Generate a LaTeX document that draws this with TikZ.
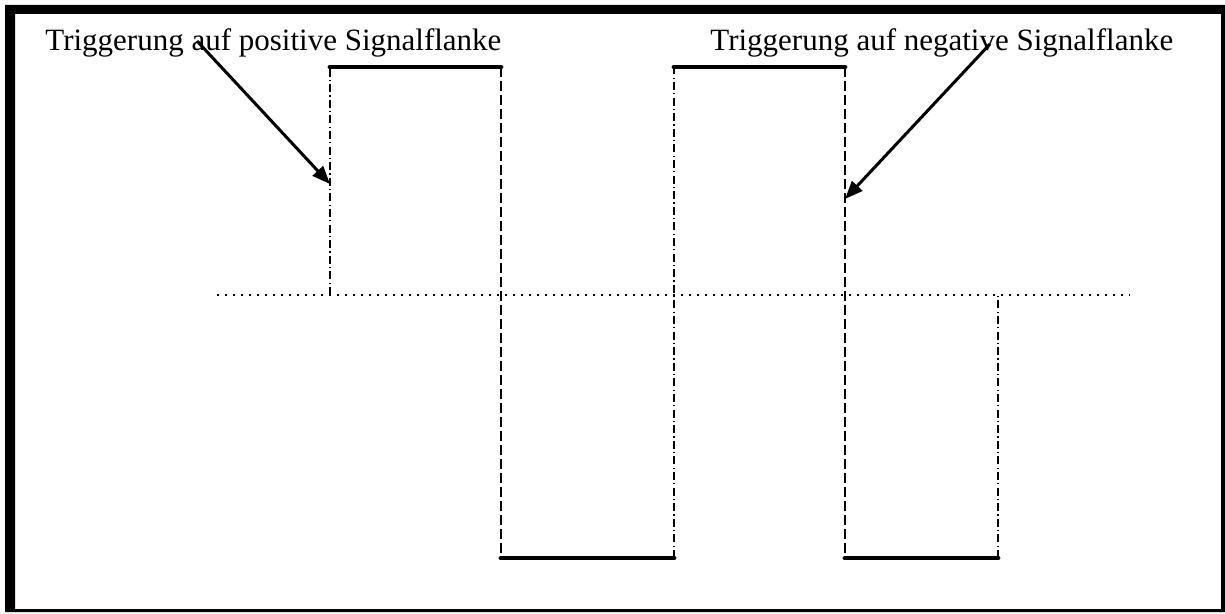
\documentclass[tikz,border=0pt]{standalone}
\usepackage{fontspec}
\setmainfont{Liberation Serif}
\usetikzlibrary{arrows.meta}
\begin{document}
\begin{tikzpicture}[x=0.5pt,y=-0.5pt,
  level/.style={line width=2.4pt,line cap=round},
  riseedge/.style={line width=1.1pt,dash pattern=on 4pt off 1.6pt on 0.6pt off 1.6pt},
  falledge/.style={line width=1.1pt,dash pattern=on 5pt off 2pt},
  zeroline/.style={line width=0.9pt,dash pattern=on 0.9pt off 3.1pt},
  pointer/.style={line width=1.5pt,-{Triangle[length=9pt,width=7pt]}},
  label/.style={font=\fontsize{15.5}{18}\selectfont,inner sep=0pt,anchor=base west}]
\useasboundingbox (0,0) rectangle (1225,614);
% frame
\fill[black,even odd rule] (5,5) rectangle (1225,612) (15,14) rectangle (1221,609);
% waveform corner points
\coordinate (z0) at (217,295);
\coordinate (z1) at (1130,295);
\coordinate (a0) at (330,295);
\coordinate (a1) at (330,67);
\coordinate (b1) at (501,67);
\coordinate (b2) at (501,558);
\coordinate (c2) at (674,558);
\coordinate (c1) at (674,67);
\coordinate (d1) at (845,67);
\coordinate (d2) at (845,558);
\coordinate (e2) at (998,558);
\coordinate (e0) at (998,295);
% zero line
\draw[zeroline] (z0) -- (z1);
% edges
\draw[riseedge] (a0) -- (a1);
\draw[falledge] (b1) -- (b2);
\draw[riseedge] (c2) -- (c1);
\draw[falledge] (d1) -- (d2);
\draw[riseedge] (e2) -- (e0);
% levels
\draw[level] (a1) -- (b1);
\draw[level] (b2) -- (c2);
\draw[level] (c1) -- (d1);
\draw[level] (d2) -- (e2);
% labels
\node[label] (tpos) at (45,51) {Triggerung auf positive Signalflanke};
\node[label] (tneg) at (710,51) {Triggerung auf negative Signalflanke};
\coordinate (p0) at (197,41);
\coordinate (p1) at (330,184);
\coordinate (n0) at (990,44);
\coordinate (n1) at (845,199);
\draw[pointer] (p0) -- (p1);
\draw[pointer] (n0) -- (n1);
\end{tikzpicture}
\end{document}
